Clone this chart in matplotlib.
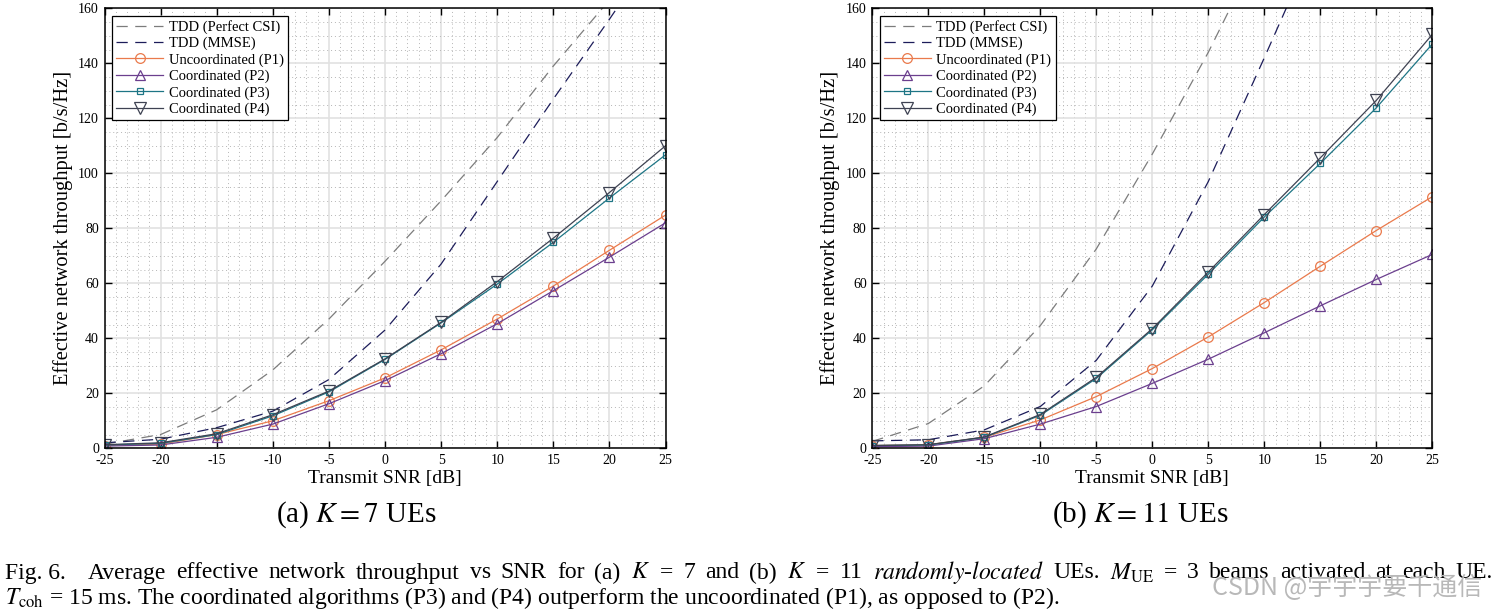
import numpy as np
import matplotlib
matplotlib.use('Agg')
import matplotlib.pyplot as plt
from matplotlib.ticker import MultipleLocator

plt.rcParams['font.family'] = ['Liberation Serif', 'DejaVu Serif']
plt.rcParams['mathtext.fontset'] = 'stix'
plt.rcParams['axes.unicode_minus'] = False

# transmit SNR [dB]
snr = [-25, -20, -15, -10, -5, 0, 5, 10, 15, 20, 25]

# (a) K = 7 UEs
a_perfect = [1.5, 5, 14, 28.5, 47, 68, 90, 113, 139, 163, 187]
a_mmse = [2, 3.3, 7.5, 13.5, 25, 43, 67, 97, 127, 156, 186]
a_p1 = [1, 1.5, 5, 10, 17.3, 25.6, 35.8, 47, 59, 72, 84.8]
a_p2 = [0.8, 1.2, 4, 8.8, 16.2, 24.6, 34.4, 45.3, 57.3, 69.5, 82]
a_p3 = [1.2, 1.8, 5, 11.8, 20.5, 32.3, 45.6, 59.7, 74.9, 91, 106.7]
a_p4 = [1.3, 2, 5.3, 12.2, 20.8, 32.5, 45.8, 60.6, 76.4, 93, 110]

# (b) K = 11 UEs
b_perfect = [2.5, 9, 22.7, 44.6, 72.5, 107, 144, 185, 225, 265, 305]
b_mmse = [2.7, 3.1, 6.7, 15.2, 32, 59, 97, 142, 188, 235, 280]
b_p1 = [1, 1.3, 4, 10.3, 18.8, 29, 40.5, 53, 66.2, 79.2, 91.5]
b_p2 = [0.6, 0.8, 3.5, 8.8, 15.2, 23.6, 32.4, 42, 51.8, 61.4, 70.5]
b_p3 = [1, 1.2, 4, 12, 25.4, 43.1, 63.3, 84.1, 103.6, 123.8, 147]
b_p4 = [1, 1.3, 4.1, 12.3, 25.8, 43.5, 64.1, 85, 105.6, 126.5, 150.5]

labels = ['TDD (Perfect CSI)', 'TDD (MMSE)', 'Uncoordinated (P1)',
          'Coordinated (P2)', 'Coordinated (P3)', 'Coordinated (P4)']

c_perfect = '#7c7c7c'
c_mmse = '#1c1c5a'
c_p1 = '#ea7a4c'
c_p2 = '#6b3f8e'
c_p3 = '#1d7585'
c_p4 = '#3e4252'

fig = plt.figure(figsize=(14.98, 6.11), dpi=100)
ax1 = fig.add_axes([104.5 / 1498, 1 - 448.3 / 611, 561 / 1498, 440 / 611])
ax2 = fig.add_axes([872.3 / 1498, 1 - 448.3 / 611, 560 / 1498, 440 / 611])


def draw(ax, perfect, mmse, p1, p2, p3, p4):
    ax.plot(snr, perfect, color=c_perfect, lw=0.9, dashes=(9, 6), label=labels[0])
    ax.plot(snr, mmse, color=c_mmse, lw=0.9, dashes=(9, 6), label=labels[1])
    ax.plot(snr, p1, color=c_p1, lw=0.9, marker='o', ms=7, mfc='none', mew=0.9, label=labels[2])
    ax.plot(snr, p2, color=c_p2, lw=0.9, marker='^', ms=7.5, mfc='none', mew=0.9, label=labels[3])
    ax.plot(snr, p3, color=c_p3, lw=0.9, marker='s', ms=5, mfc='none', mew=0.9, label=labels[4])
    ax.plot(snr, p4, color=c_p4, lw=0.9, marker='v', ms=8, mfc='none', mew=0.9, label=labels[5])
    ax.set_xlim(-25, 25)
    ax.set_ylim(0, 160)
    ax.xaxis.set_major_locator(MultipleLocator(5))
    ax.yaxis.set_major_locator(MultipleLocator(20))
    ax.xaxis.set_minor_locator(MultipleLocator(1))
    ax.yaxis.set_minor_locator(MultipleLocator(5))
    ax.grid(True, which='major', color='#e2e2e2', lw=1.2)
    ax.grid(True, which='minor', color='#b5b5b5', lw=0.7, ls=(0, (1, 3)))
    ax.set_axisbelow(True)
    ax.tick_params(which='major', direction='in', top=True, right=True, length=5,
                   width=1, labelsize=10, pad=4)
    ax.tick_params(which='minor', length=0)
    for s in ax.spines.values():
        s.set_linewidth(1.1)
    ax.set_xlabel('Transmit SNR [dB]', fontsize=14, labelpad=2)
    ax.set_ylabel('Effective network throughput [b/s/Hz]', fontsize=14.8, labelpad=4)
    leg = ax.legend(loc='upper left', fontsize=10.5, frameon=True, fancybox=False,
                    edgecolor='black', framealpha=1, borderaxespad=0.5,
                    handlelength=3.2, labelspacing=0.2, borderpad=0.3,
                    handletextpad=0.4)
    leg.get_frame().set_linewidth(0.9)


draw(ax1, a_perfect, a_mmse, a_p1, a_p2, a_p3, a_p4)
draw(ax2, b_perfect, b_mmse, b_p1, b_p2, b_p3, b_p4)

fig.text(356 / 1498, 1 - 515 / 611, '(a) $K = 7$ UEs', fontsize=21, ha='center', va='center')
fig.text(1140 / 1498, 1 - 515 / 611, '(b) $K = 11$ UEs', fontsize=21, ha='center', va='center')

# caption: first line justified across the page, second line left aligned
words1 = [r'Fig. 6.  ', 'Average', 'effective', 'network', 'throughput', 'vs', 'SNR', 'for',
          '(a)', '$K$', '=', '7', 'and', '(b)', '$K$', '=', '11',
          r'$\mathit{randomly}$-$\mathit{located}$', 'UEs.', r'$M_{\mathrm{UE}}$', '=', '3',
          'beams', 'activated', 'at', 'each', 'UE.']
line2 = (r'$T_{\mathrm{coh}}$ = 15 ms. The coordinated algorithms (P3) and (P4) outperform the '
         r'uncoordinated (P1), as opposed to (P2).')
cap_size = 17
x_left, x_right = 5, 1493
renderer = fig.canvas.get_renderer()
items = []
for w in words1:
    t = fig.text(0, 1 - 573 / 611, w, fontsize=cap_size, ha='left', va='center')
    items.append(t)
widths = [t.get_window_extent(renderer).width for t in items]
gap = (x_right - x_left - sum(widths)) / (len(items) - 1)
x = x_left
for t, wd in zip(items, widths):
    t.set_x(x / 1498)
    x += wd + gap
fig.text(5 / 1498, 1 - 598 / 611, line2, fontsize=cap_size, ha='left', va='center')
fig.text(1482 / 1498, 1 - 588 / 611, 'CSDN @宇宇宇要千通信', fontsize=18, color='#b8b8b8',
         ha='right', va='center', family=['Noto Sans CJK SC', 'DejaVu Sans'])

fig.savefig('out.png', dpi=100)
